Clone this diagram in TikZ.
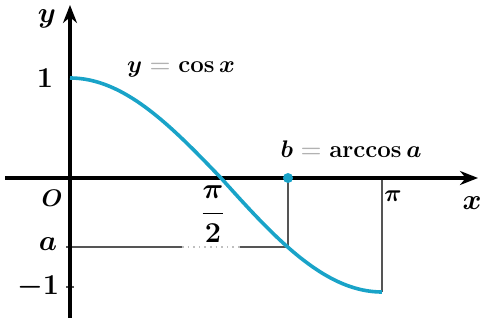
\documentclass[tikz,border=0pt]{standalone}
\usetikzlibrary{arrows.meta}
\definecolor{curvecol}{RGB}{25,163,200}
\definecolor{guide}{RGB}{85,85,85}
\begin{document}
\begin{tikzpicture}[x=0.5pt,y=-0.5pt,
  axis/.style={line width=1.6pt, -{Stealth[length=9pt,width=7pt]}},
  guideline/.style={draw=guide, line width=1pt},
  faintline/.style={draw=black!25, line width=0.8pt, dotted},
  lbl/.style={font=\fontsize{12}{14}\selectfont\boldmath, inner sep=0pt},
  biglbl/.style={font=\fontsize{13.5}{15}\selectfont\boldmath, inner sep=0pt},
  ]
\useasboundingbox (0,0) rectangle (483,320);
% key points
\coordinate (O) at (70,178);
\coordinate (xs) at (5,178);
\coordinate (xe) at (478,178);
\coordinate (ys) at (70,318);
\coordinate (ye) at (70,5);
\coordinate (B) at (288,178);
\coordinate (P) at (288,247);
\coordinate (A) at (70,247);
\coordinate (A1) at (182,247);
\coordinate (A2) at (240,247);
\coordinate (Pi) at (382,178);
\coordinate (M) at (382,292);
\coordinate (tm1a) at (66,287);
\coordinate (tm1b) at (74,287);
\coordinate (taa) at (66,247);
\coordinate (tab) at (74,247);
% guide lines
\draw[guideline] (A) -- (A1);
\draw[faintline] (A1) -- (A2);
\draw[guideline] (A2) -- (P);
\draw[guideline] (B) -- (P);
\draw[guideline] (Pi) -- (M);
\draw[guideline] (tm1a) -- (tm1b);
\draw[guideline] (taa) -- (tab);
% axes
\draw[axis] (xs) -- (xe);
\draw[axis] (ys) -- (ye);
% curve
\draw[curvecol, line width=1.8pt, line join=round]
  plot[domain=0:180, samples=120, variable=\u]
  ({70 + ifthenelse(\u<=90, \u/90*151, 151+(\u-90)/90*161)},
   {178 - cos(\u)*ifthenelse(\u<=90, 100, 114)});
\fill[curvecol] (B) circle (5);
% labels
\node[biglbl] (ylab) at (47,19) {$y$};
\node[biglbl] (one) at (45,78) {$1$};
\node[lbl] (olab) at (52,198) {$O$};
\node[biglbl] (alab) at (48,244) {$a$};
\node[biglbl] (m1) at (38,287) {$-1$};
\node[biglbl] (pi2) at (213,214) {$\displaystyle\frac{\pi}{2}$};
\node[lbl] (pilab) at (393,196) {$\pi$};
\node[biglbl] (xlab) at (472,203) {$x$};
\node[lbl] (eq1) at (181,70) {$y \mathrel{\color{black!30}=} \cos x$};
\node[lbl] (eq2) at (351,149) {$b \mathrel{\color{black!30}=} \arccos a$};
\end{tikzpicture}
\end{document}
